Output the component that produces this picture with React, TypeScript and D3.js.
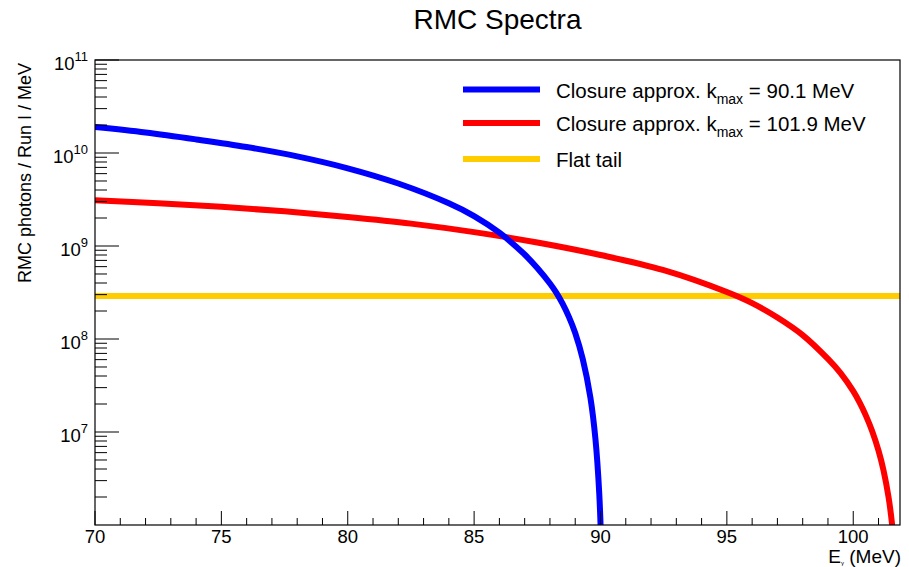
import React from "react";
import * as d3 from "d3";

// ---- data ----
const blueX = [70, 72, 74, 76, 78, 80, 82, 84, 85, 86, 87, 87.5, 88, 88.25, 88.5, 88.75, 89, 89.3, 89.6, 89.8, 89.95, 90.05];
const blueY = [1.9e10, 1.66e10, 1.4e10, 1.16e10, 9.2e9, 6.85e9, 4.7e9, 2.88e9, 2.1e9, 1.39e9, 8.1e8, 5.8e8, 3.95e8, 3.15e8, 2.4e8, 1.73e8, 1.16e8, 6.05e7, 2.35e7, 8.4e6, 2.2e6, 4e5];

const redX = [70, 72.5, 75, 77.5, 80, 82.5, 85, 87.5, 90, 92.5, 95, 96, 97, 98, 99, 99.5, 100, 100.25, 100.5, 100.75, 101, 101.2, 101.4, 101.55, 101.7];
const redY = [3.1e9, 2.88e9, 2.64e9, 2.36e9, 2.05e9, 1.74e9, 1.41e9, 1.09e9, 8.0e8, 5.5e8, 3.2e8, 2.43e8, 1.7e8, 1.1e8, 6.1e7, 4.3e7, 2.75e7, 2.08e7, 1.5e7, 1.02e7, 6.3e6, 3.85e6, 1.97e6, 9.4e5, 3e5];

const flatX = [70, 101.85];
const flatY = [2.9e8, 2.9e8];

const xMajorTicks = [70, 75, 80, 85, 90, 95, 100];
const yDecadeExps = [7, 8, 9, 10, 11];

const legendLabels = [
  { pre: "Closure approx. k", sub: "max", post: " = 90.1 MeV", color: "#0000ff" },
  { pre: "Closure approx. k", sub: "max", post: " = 101.9 MeV", color: "#ff0000" },
  { pre: "Flat tail", sub: "", post: "", color: "#ffcc00" },
];

const W = 909;
const H = 567;
const left = 95, right = 900, top = 60, bottom = 525;
const FONT = "'Liberation Sans', Arial, Helvetica, sans-serif";

export default function App() {
  const x = d3.scaleLinear().domain([70, 101.85]).range([left, right]);
  const y = d3.scaleLog().domain([1e6, 1e11]).range([bottom, top]);

  const line = d3
    .line<[number, number]>()
    .x((d) => x(d[0]))
    .y((d) => y(d[1]))
    .curve(d3.curveCatmullRom.alpha(0.5));

  const blue = blueX.map((v, i) => [v, blueY[i]] as [number, number]);
  const red = redX.map((v, i) => [v, redY[i]] as [number, number]);
  const flat = flatX.map((v, i) => [v, flatY[i]] as [number, number]);

  const xMinor: number[] = d3.range(71, 102, 1).filter((v) => v % 5 !== 0);
  const yMinor: number[] = [];
  for (let e = 6; e <= 10; e++) for (let m = 2; m <= 9; m++) yMinor.push(m * Math.pow(10, e));

  return (
    <svg
      width={W}
      height={H}
      style={{ position: "absolute", left: 0, top: 0, background: "#fff" }}
      fontFamily={FONT}
    >
      <rect x={0} y={0} width={W} height={H} fill="#fff" />
      <defs>
        <clipPath id="plotclip">
          <rect x={left} y={top} width={right - left} height={bottom - top} />
        </clipPath>
      </defs>

      {/* title */}
      <text x={(left + right) / 2} y={29} textAnchor="middle" fontSize={28} fill="#000">
        RMC Spectra
      </text>

      {/* curves */}
      <g clipPath="url(#plotclip)" fill="none">
        <path d={line(flat) || ""} stroke="#ffcc00" strokeWidth={6} />
        <path d={line(red) || ""} stroke="#ff0000" strokeWidth={6} />
        <path d={line(blue) || ""} stroke="#0000ff" strokeWidth={6} />
      </g>

      {/* frame */}
      <rect x={left} y={top} width={right - left} height={bottom - top} fill="none" stroke="#000" strokeWidth={1.2} />

      {/* x ticks */}
      {xMajorTicks.map((t) => (
        <g key={"xm" + t}>
          <line x1={x(t)} x2={x(t)} y1={bottom} y2={bottom - 14} stroke="#000" strokeWidth={1} />
          <text x={x(t)} y={543} textAnchor="middle" fontSize={18.5} fill="#000">
            {t}
          </text>
        </g>
      ))}
      {xMinor.map((t) => (
        <line key={"xn" + t} x1={x(t)} x2={x(t)} y1={bottom} y2={bottom - 7} stroke="#000" strokeWidth={1} />
      ))}

      {/* y ticks */}
      {yDecadeExps.map((e) => {
        const v = Math.pow(10, e);
        return (
          <g key={"ym" + e}>
            <line x1={left} x2={left + 24} y1={y(v)} y2={y(v)} stroke="#000" strokeWidth={1} />
            <text x={88} y={y(v) + 9.5} textAnchor="end" fontSize={18.5} fill="#000">
              10
              <tspan fontSize={13} dy={-9}>
                {e}
              </tspan>
            </text>
          </g>
        );
      })}
      {yMinor.map((v) => (
        <line key={"yn" + v} x1={left} x2={left + 12} y1={y(v)} y2={y(v)} stroke="#000" strokeWidth={1} />
      ))}

      {/* axis titles */}
      <text transform={`translate(31, 63) rotate(-90)`} textAnchor="end" fontSize={18} fill="#000">
        RMC photons / Run I / MeV
      </text>
      <text x={901} y={563} textAnchor="end" fontSize={19} fill="#000">
        E
        <tspan fontSize={6} dy={2}>γ</tspan>
        <tspan dy={-2}> (MeV)</tspan>
      </text>

      {/* legend */}
      {legendLabels.map((l, i) => {
        const cy = [89.5, 123, 159][i];
        return (
          <g key={"lg" + i}>
            <line x1={463} x2={540} y1={cy} y2={cy} stroke={l.color} strokeWidth={6} />
            <text x={556} y={cy + 8} fontSize={20.5} fill="#000">
              {l.pre}
              {l.sub ? (
                <tspan fontSize={14} dy={6}>
                  {l.sub}
                </tspan>
              ) : null}
              {l.post ? <tspan dy={l.sub ? -6 : 0}>{l.post}</tspan> : null}
            </text>
          </g>
        );
      })}
    </svg>
  );
}
